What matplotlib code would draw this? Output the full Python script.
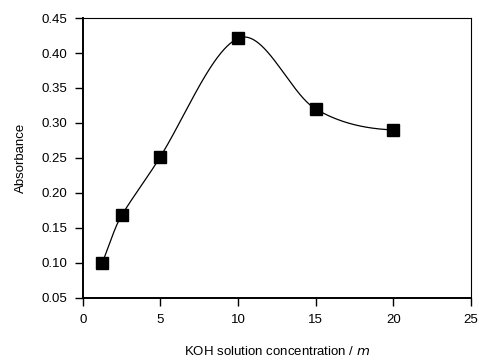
import numpy as np
import matplotlib
matplotlib.use("Agg")
import matplotlib.pyplot as plt

plt.rcParams['font.family'] = ['Liberation Sans', 'DejaVu Sans']

# KOH concentration (m) and absorbance
conc = [1.25, 2.5, 5, 10, 15, 20]
absorbance = [0.100, 0.168, 0.252, 0.421, 0.320, 0.290]
xticks = [0, 5, 10, 15, 20, 25]
yticks = [0.05, 0.10, 0.15, 0.20, 0.25, 0.30, 0.35, 0.40, 0.45]

# tangents of the smooth line at each point (shape of the drawn curve)
tangents = [0.056, 0.036, 0.036, 0.010, -0.013, -0.001]


def hermite(x, y, m, xs):
    x = np.asarray(x, float)
    y = np.asarray(y, float)
    h = np.diff(x)
    n = len(x)
    out = np.empty_like(xs)
    for k, xv in enumerate(xs):
        i = min(max(np.searchsorted(x, xv) - 1, 0), n - 2)
        t = (xv - x[i]) / h[i]
        h00 = 2 * t**3 - 3 * t**2 + 1
        h10 = t**3 - 2 * t**2 + t
        h01 = -2 * t**3 + 3 * t**2
        h11 = t**3 - t**2
        out[k] = h00 * y[i] + h10 * h[i] * m[i] + h01 * y[i + 1] + h11 * h[i] * m[i + 1]
    return out


fig = plt.figure(figsize=(4.79, 3.61), dpi=100)
ax = fig.add_axes([0.173, 0.175, 0.810, 0.775])

xs = np.linspace(conc[0], conc[-1], 400)
ax.plot(xs, hermite(conc, absorbance, tangents, xs), color='black', lw=0.9)
ax.plot(conc, absorbance, 's', color='black', ms=9, ls='none')

ax.set_xlim(0, 25)
ax.set_ylim(0.05, 0.45)
ax.set_xticks(xticks)
ax.set_yticks(yticks)
ax.set_yticklabels([f"{v:.2f}" for v in yticks])
ax.tick_params(direction='out', length=5.5, width=1.0, labelsize=9.5, pad=6)

for s in ['left', 'bottom']:
    ax.spines[s].set_linewidth(1.4)
for s in ['top', 'right']:
    ax.spines[s].set_linewidth(0.8)

ax.set_xlabel(r"KOH solution concentration / $\mathit{m}$", fontsize=9.5, labelpad=14)
ax.set_ylabel("Absorbance", fontsize=9.5, labelpad=10)

fig.savefig("out.png", dpi=100)
